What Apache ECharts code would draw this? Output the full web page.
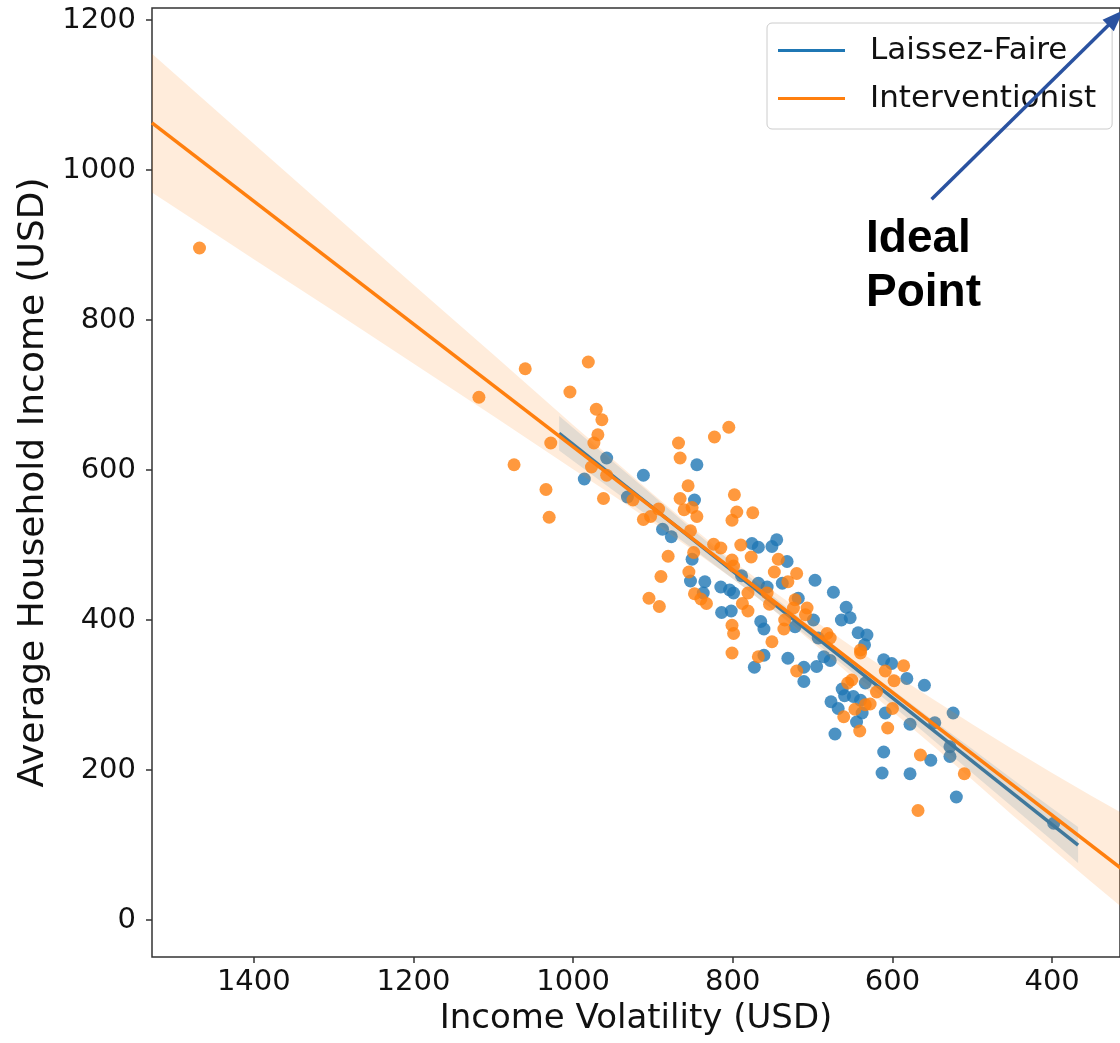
<!DOCTYPE html>
<html>
<head>
<meta charset="utf-8">
<script src="https://cdn.jsdelivr.net/npm/echarts@6/dist/echarts.min.js"></script>
<style>
  html, body { margin: 0; padding: 0; background: #ffffff; }
  #chart { width: 1120px; height: 1043px; }
</style>
</head>
<body>
<div id="chart"></div>
<script>
// Income volatility vs. average household income, two policy regimes

// Tick labels
const xTicks = [400, 600, 800, 1000, 1200, 1400];
const yTicks = [0, 200, 400, 600, 800, 1000, 1200];

// Laissez-Faire observations: [volatility, income]
const laissezFairePoints = [
  [958, 616], [986, 588], [912, 593], [932, 564], [888, 521], [877, 511],
  [845, 607], [848, 560], [851, 481], [853, 452], [835, 451], [837, 436],
  [815, 444], [804, 440], [799, 436], [814, 410], [802, 412], [789, 459],
  [776, 502], [768, 497], [751, 498], [745, 507], [732, 478], [738, 449],
  [697, 453], [768, 449], [757, 444], [718, 429], [699, 400], [722, 391],
  [765, 398], [761, 388], [761, 353], [773, 337], [731, 349], [711, 337],
  [711, 318], [695, 338], [693, 376], [643, 383], [632, 380], [635, 367],
  [686, 351], [678, 346], [611, 347], [601, 342], [582, 322], [560, 313],
  [634, 316], [663, 308], [660, 299], [649, 298], [640, 293], [677, 291],
  [668, 282], [638, 276], [609, 276], [645, 264], [578, 261], [547, 263],
  [524, 276], [672, 248], [611, 224], [528, 231], [528, 218], [552, 213],
  [613, 196], [578, 195], [520, 164], [398, 129], [674, 437], [658, 417],
  [653, 403], [664, 400]
];

// Interventionist observations: [volatility, income]
const interventionistPoints = [
  [1468, 896], [1118, 697], [1060, 735], [1074, 607], [1034, 574], [1030, 537],
  [1028, 636], [1004, 704], [981, 744], [971, 681], [964, 667], [969, 647],
  [974, 636], [977, 604], [962, 562], [958, 593], [925, 560], [912, 534],
  [903, 538], [893, 548], [868, 636], [866, 616], [856, 579], [866, 562],
  [861, 547], [851, 550], [845, 538], [853, 519], [881, 485], [890, 458],
  [855, 464], [848, 435], [905, 429], [892, 418], [849, 490], [840, 428],
  [833, 422], [788, 422], [781, 436], [781, 412], [824, 501], [815, 496],
  [790, 500], [801, 480], [799, 472], [777, 484], [743, 481], [748, 464],
  [720, 462], [731, 451], [757, 436], [754, 421], [722, 427], [724, 416],
  [707, 416], [709, 407], [735, 400], [736, 388], [801, 393], [799, 382],
  [751, 371], [801, 356], [768, 351], [720, 332], [682, 382], [678, 376],
  [640, 360], [640, 356], [586, 339], [609, 332], [598, 319], [651, 320],
  [656, 316], [620, 304], [634, 287], [628, 288], [647, 281], [600, 282],
  [661, 271], [641, 252], [606, 256], [565, 220], [510, 195], [568, 146],
  [823, 644], [805, 657], [798, 567], [795, 544], [801, 533], [775, 543]
];

// Fitted regression lines (end points)
const laissezFaireFit = [[1017.5, 649], [367.5, 100]];
const interventionistFit = [[1527.5, 1062.7], [305, 61.8]];

// 95% confidence bands around each fit
const laissezFaireBandX     = [1017.5, 950, 900, 850, 800, 750, 700, 650, 600, 550, 500, 450, 400, 367.5];
const laissezFaireBandUpper = [672, 611, 566, 520, 476, 432, 389, 347, 307, 267, 228, 188, 149, 124];
const laissezFaireBandLower = [626, 573, 534, 495, 455, 414, 373, 330, 286, 241, 196, 151, 106, 76];

const interventionistBandX     = [1527.5, 1450, 1400, 1300, 1200, 1100, 1000, 950, 900, 850, 800,
                                  750, 700, 650, 600, 550, 500, 450, 400, 350, 305];
const interventionistBandUpper = [1155, 1082, 1035, 941, 847, 754, 660, 614, 568, 523, 479,
                                  439, 401, 364, 329, 295, 261, 228, 196, 165, 138];
const interventionistBandLower = [970, 916, 881, 812, 742, 672, 601, 566, 530, 493, 455,
                                  414, 370, 324, 278, 233, 187, 140, 95, 50, 10];

// "Ideal Point" arrow: tail, head
const idealArrow = [[551, 961], [320, 1203]];

const BLUE = '#1f77b4';
const ORANGE = '#ff7f0e';
const FONT = 'DejaVu Sans';

function bandSeries(name, xs, upper, lower, color, z) {
  return {
    name: name,
    type: 'custom',
    coordinateSystem: 'cartesian2d',
    clip: true,
    silent: true,
    z: z,
    data: [0],
    renderItem: function (params, api) {
      const pts = [];
      for (let i = 0; i < xs.length; i++) pts.push(api.coord([xs[i], upper[i]]));
      for (let i = xs.length - 1; i >= 0; i--) pts.push(api.coord([xs[i], lower[i]]));
      return {
        type: 'polygon',
        shape: { points: pts },
        style: { fill: color, stroke: null }
      };
    }
  };
}

const plain = function (v) { return String(v); };

const chart = echarts.init(document.getElementById('chart'), null, { renderer: 'canvas' });

chart.setOption({
  animation: false,
  backgroundColor: '#ffffff',
  grid: {
    left: 152, top: 8, right: -2, bottom: 86,
    show: true, borderColor: '#333333', borderWidth: 1.5,
    containLabel: false
  },
  xAxis: {
    type: 'value',
    inverse: true,
    min: 315, max: 1527.5,
    name: 'Income Volatility (USD)',
    nameLocation: 'middle',
    nameGap: 44,
    nameTextStyle: { fontFamily: FONT, fontSize: 34, color: '#111111' },
    axisLine: { show: false, onZero: false },
    splitLine: { show: false },
    axisTick: { show: true, inside: false, length: 6, customValues: xTicks,
      lineStyle: { color: '#333333', width: 1.5 } },
    axisLabel: { customValues: xTicks, margin: 11, formatter: plain,
      fontFamily: FONT, fontSize: 29, color: '#111111' }
  },
  yAxis: {
    type: 'value',
    min: -49.3, max: 1216,
    name: 'Average Household Income (USD)',
    nameLocation: 'middle',
    nameGap: 81,
    nameTextStyle: { fontFamily: FONT, fontSize: 36, color: '#111111' },
    axisLine: { show: false, onZero: false },
    splitLine: { show: false },
    axisTick: { show: true, inside: false, length: 6, customValues: yTicks,
      lineStyle: { color: '#333333', width: 1.5 } },
    axisLabel: { customValues: yTicks, margin: 16, formatter: plain,
      fontFamily: FONT, fontSize: 29, color: '#111111' }
  },
  legend: {
    data: ['Laissez-Faire', 'Interventionist'],
    orient: 'vertical',
    left: 767, top: 23,
    icon: 'rect',
    itemWidth: 67, itemHeight: 3,
    itemGap: 17,
    padding: [12, 16, 15, 11],
    backgroundColor: 'rgba(255,255,255,0.8)',
    borderColor: '#cccccc', borderWidth: 1, borderRadius: 5,
    selectedMode: false,
    textStyle: { fontFamily: FONT, fontSize: 31, color: '#111111',
      padding: [0, 0, 0, 20] }
  },
  graphic: [{
    type: 'text',
    left: 866, top: 212,
    z: 20,
    style: {
      text: 'Ideal\nPoint',
      font: 'bold 46px "Liberation Sans", Arial, sans-serif',
      lineHeight: 54,
      fill: '#000000'
    }
  }],
  series: [
    {
      name: 'Laissez-Faire data', type: 'scatter', z: 1,
      data: laissezFairePoints, symbolSize: 13,
      itemStyle: { color: BLUE, opacity: 0.8 }, silent: true
    },
    bandSeries('Laissez-Faire band', laissezFaireBandX, laissezFaireBandUpper,
      laissezFaireBandLower, 'rgba(31,119,180,0.15)', 2),
    {
      name: 'Laissez-Faire', type: 'line', z: 3,
      data: laissezFaireFit, showSymbol: false, symbol: 'none',
      lineStyle: { color: BLUE, width: 3.5 }, itemStyle: { color: BLUE }, silent: true
    },
    {
      name: 'Interventionist data', type: 'scatter', z: 4,
      data: interventionistPoints, symbolSize: 13,
      itemStyle: { color: ORANGE, opacity: 0.8 }, silent: true
    },
    bandSeries('Interventionist band', interventionistBandX, interventionistBandUpper,
      interventionistBandLower, 'rgba(255,127,14,0.15)', 5),
    {
      name: 'Interventionist', type: 'line', z: 6,
      data: interventionistFit, showSymbol: false, symbol: 'none',
      lineStyle: { color: ORANGE, width: 3.5 }, itemStyle: { color: ORANGE }, silent: true
    },
    {
      name: 'Ideal Point arrow', type: 'line', z: 10,
      data: [], silent: true,
      markLine: {
        silent: true,
        symbol: ['none', 'triangle'],
        symbolSize: [16, 22],
        label: { show: false },
        lineStyle: { color: '#2a52a0', width: 3.5, type: 'solid' },
        data: [[{ coord: idealArrow[0] }, { coord: idealArrow[1] }]]
      }
    }
  ]
});
</script>
</body>
</html>
